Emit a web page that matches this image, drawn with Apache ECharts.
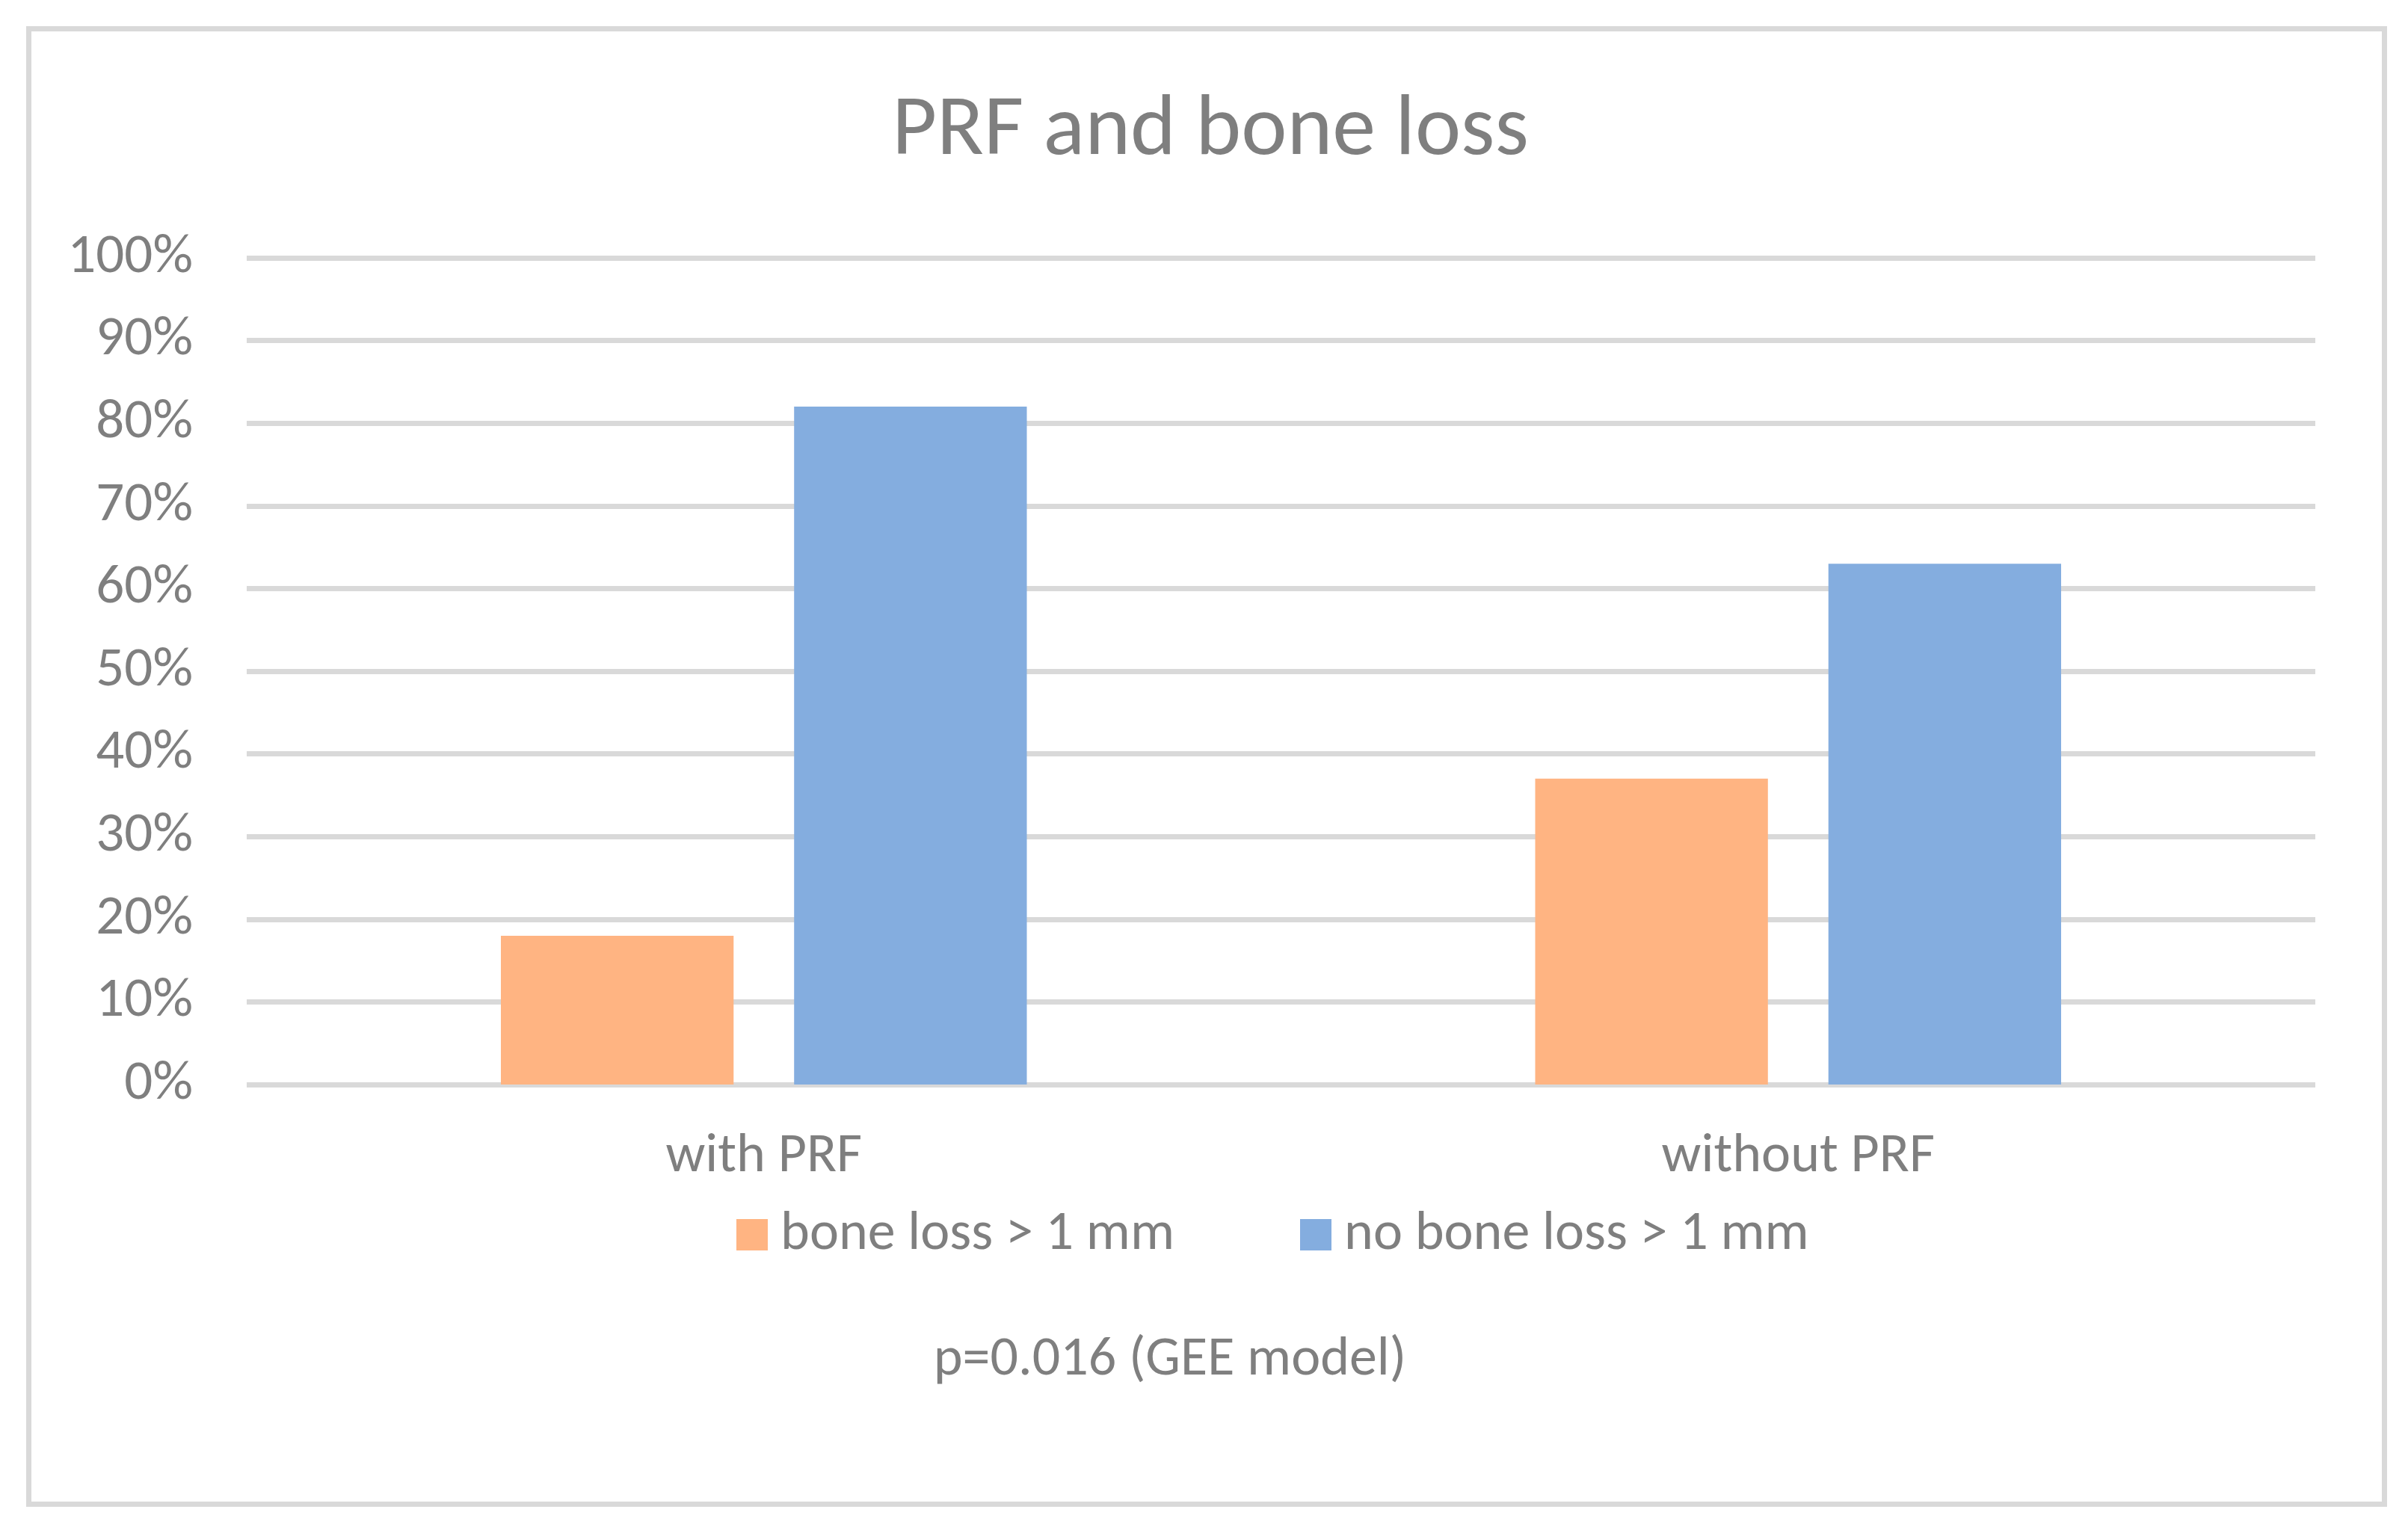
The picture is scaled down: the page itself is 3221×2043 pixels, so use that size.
<!DOCTYPE html>
<html>
<head>
<meta charset="utf-8">
<script src="https://cdn.jsdelivr.net/npm/echarts@6/dist/echarts.min.js"></script>
<style>
html,body{margin:0;padding:0;background:#fff;}
#chart{width:3221px;height:2043px;}
</style>
</head>
<body>
<div id="chart"></div>
<script>
const categories = ['with PRF', 'without PRF'];
const seriesNames = ['bone loss > 1 mm', 'no bone loss > 1 mm'];
const boneLoss = [18, 37];
const noBoneLoss = [82, 63];
const yTicks = [0, 10, 20, 30, 40, 50, 60, 70, 80, 90, 100];
const titleText = 'PRF and bone loss';
const noteText = 'p=0.016 (GEE model)';

const FONT = 'Carlito, Lato, "Open Sans", sans-serif';
const GRAY = '#7f7f7f';
const LINE = '#d9d9d9';

const chart = echarts.init(document.getElementById('chart'), null, {renderer: 'canvas'});
chart.setOption({
  backgroundColor: '#ffffff',
  animation: false,
  textStyle: {fontFamily: FONT},
  title: [
    {
      text: titleText,
      left: 1614, top: 114, textAlign: 'center',
      textStyle: {fontFamily: FONT, fontSize: 116, fontWeight: 'normal', color: GRAY}
    },
    {
      text: noteText,
      left: 1560, top: 1778, textAlign: 'center',
      textStyle: {fontFamily: FONT, fontSize: 74, fontWeight: 'normal', color: GRAY}
    }
  ],
  graphic: [{
    type: 'rect',
    shape: {x: 38.5, y: 38.5, width: 3151, height: 1974},
    style: {fill: 'none', stroke: LINE, lineWidth: 7},
    silent: true
  }],
  legend: {
    data: seriesNames,
    left: 980, top: 1610,
    itemWidth: 42, itemHeight: 42,
    itemGap: 168,
    icon: 'rect',
    textStyle: {fontFamily: FONT, fontSize: 74, color: GRAY, padding: [0, 0, 0, 12]}
  },
  grid: {left: 330, right: 124, top: 345, bottom: 592, containLabel: false},
  xAxis: {
    type: 'category',
    data: categories,
    axisLine: {show: false},
    axisTick: {show: false},
    axisLabel: {fontFamily: FONT, fontSize: 74, color: GRAY, margin: 60}
  },
  yAxis: {
    type: 'value',
    min: 0, max: 100, interval: 10,
    axisLine: {show: false},
    axisTick: {show: false},
    axisLabel: {fontFamily: FONT, fontSize: 75, color: GRAY, margin: 72,
      formatter: function (v) { return yTicks.indexOf(v) >= 0 ? v + '%' : ''; }},
    splitLine: {show: true, lineStyle: {color: LINE, width: 7}}
  },
  series: [
    {
      name: seriesNames[0], type: 'bar', data: boneLoss,
      barWidth: '22.5%', barGap: '26%',
      itemStyle: {color: '#FFB482'}
    },
    {
      name: seriesNames[1], type: 'bar', data: noBoneLoss,
      barWidth: '22.5%', barGap: '26%',
      itemStyle: {color: '#84ADDF'}
    }
  ]
});
</script>
</body>
</html>
